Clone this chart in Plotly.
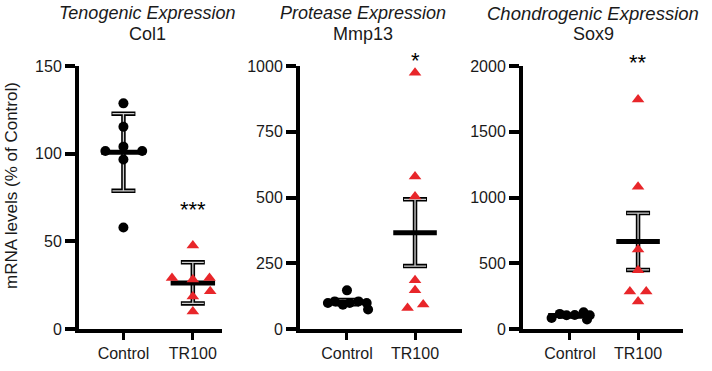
import numpy as np
import plotly.graph_objects as go

W, H = 712, 371

# ---------------- data ----------------
groups = ["Control", "TR100"]
panel_titles = ["Tenogenic Expression", "Protease Expression", "Chondrogenic Expression"]
genes = ["Col1", "Mmp13", "Sox9"]
significance = ["***", "*", "**"]
y_max = [150, 1000, 2000]
y_dtick = [50, 250, 500]

col1_control = [128.7, 115.4, 104.0, 101.5, 101.5, 96.7, 57.9]
col1_tr100 = [47.6, 29.1, 28.2, 29.1, 21.5, 18.6, 10.0]
mmp13_control = [99, 105, 92, 147, 99, 105, 99, 74]
mmp13_tr100 = [974, 580, 504, 185, 147, 80, 93]
sox9_control = [84, 115, 104, 106, 128, 72, 104]
sox9_tr100 = [1746, 1081, 604, 446, 286, 286, 210]

# error-bar half lengths (Col1: SD, Mmp13/Sox9: SEM)
col1_err = [22.0, 11.7]
mmp13_err = [8.0, 127.0]
sox9_err = [7.0, 216.0]

# horizontal jitter of the dots (category units)
col1_control_jit = [0, 0, 0, -0.26, 0.27, 0, 0]
col1_tr100_jit = [0, -0.30, 0, 0.24, 0.25, 0, 0]
mmp13_control_jit = [-0.28, -0.18, -0.06, 0.0, 0.04, 0.17, 0.29, 0.31]
mmp13_tr100_jit = [0, 0, 0, 0, 0, -0.11, 0.12]
sox9_control_jit = [-0.27, -0.15, -0.05, 0.07, 0.20, 0.25, 0.29]
sox9_tr100_jit = [0, 0, 0, 0, -0.12, 0.12, 0]

panels = [
    (col1_control, col1_tr100, col1_err, col1_control_jit, col1_tr100_jit),
    (mmp13_control, mmp13_tr100, mmp13_err, mmp13_control_jit, mmp13_tr100_jit),
    (sox9_control, sox9_tr100, sox9_err, sox9_control_jit, sox9_tr100_jit),
]

# ---------------- layout geometry (pixels) ----------------
x_dom_px = [(79, 222), (300, 462), (523, 683)]
x_ranges = [(-0.64, 1.42), (-0.69, 1.69), (-0.69, 1.66)]
y_dom_px = (329, 66)
title_cx = [147, 363, 593]
title_font = [18, 18, 18.5]

FONT = "Liberation Sans, Arial, sans-serif"
TXT = "#1a1a1a"
RED = "#E8262A"
MEAN_HW = 0.32


def px_x(p):
    return p / W


def px_y(p):
    return 1 - p / H


fig = go.Figure()
layout = dict(
    width=W, height=H, autosize=False,
    margin=dict(l=0, r=0, t=0, b=0, pad=0),
    paper_bgcolor="white", plot_bgcolor="white",
    showlegend=False,
    font=dict(family=FONT, color=TXT, size=16),
)
annotations = []

for i, (ctrl, trt, err, jc, jt) in enumerate(panels):
    sfx = "" if i == 0 else str(i + 1)
    xa, ya = "x" + sfx, "y" + sfx
    means = [float(np.mean(ctrl)), float(np.mean(trt))]

    # error bars (black, with a light core to mimic the printed double line)
    for col, th, wd in [("black", 4.5, 12), ("#cfcfcf", 1.3, 11)]:
        fig.add_trace(go.Scatter(
            x=[0, 1], y=means, mode="markers", xaxis=xa, yaxis=ya,
            marker=dict(size=1, color="rgba(0,0,0,0)"),
            error_y=dict(type="data", array=err, visible=True,
                         color=col, thickness=th, width=wd),
            hoverinfo="skip", cliponaxis=False,
        ))
    # mean lines
    for g in range(2):
        fig.add_trace(go.Scatter(
            x=[g - MEAN_HW, g + MEAN_HW], y=[means[g], means[g]],
            mode="lines", line=dict(color="black", width=5),
            xaxis=xa, yaxis=ya, hoverinfo="skip", cliponaxis=False,
        ))
    # points
    fig.add_trace(go.Scatter(
        x=[0 + j for j in jc], y=ctrl, mode="markers", xaxis=xa, yaxis=ya,
        marker=dict(symbol="circle", size=10, color="black"),
        cliponaxis=False,
    ))
    fig.add_trace(go.Scatter(
        x=[1 + j for j in jt], y=trt, mode="markers", xaxis=xa, yaxis=ya,
        marker=dict(symbol="triangle-up", size=11, color=RED),
        cliponaxis=False,
    ))

    x0, x1 = x_dom_px[i]
    layout["xaxis" + sfx] = dict(
        domain=[px_x(x0), px_x(x1)], range=list(x_ranges[i]), anchor=ya,
        tickvals=[0, 1], ticktext=groups, ticks="outside", ticklen=7,
        tickwidth=3, tickcolor="black", showline=True, linewidth=4,
        linecolor="black", showgrid=False, zeroline=False, automargin=False,
        tickfont=dict(size=16, color=TXT, family=FONT), fixedrange=True,
    )
    layout["yaxis" + sfx] = dict(
        domain=[px_y(y_dom_px[0]), px_y(y_dom_px[1])], range=[0, y_max[i]],
        anchor=xa, dtick=y_dtick[i], tick0=0, ticks="outside", ticklen=10,
        tickwidth=4, tickcolor="black", showline=True, linewidth=4,
        linecolor="black", showgrid=False, zeroline=False, automargin=False,
        tickfont=dict(size=16, color=TXT, family=FONT), fixedrange=True,
    )

    # titles
    annotations.append(dict(
        text="<i>" + panel_titles[i] + "</i>", xref="paper", yref="paper",
        x=px_x(title_cx[i]), y=px_y(1), xanchor="center", yanchor="top",
        showarrow=False, font=dict(size=title_font[i], family=FONT, color=TXT),
    ))
    annotations.append(dict(
        text=genes[i], xref="paper", yref="paper",
        x=px_x(title_cx[i]), y=px_y(34), xanchor="center", yanchor="middle",
        showarrow=False, font=dict(size=18, family=FONT, color=TXT),
    ))

# significance stars
star_y_px = [209, 61, 63]
for i in range(3):
    sfx = "" if i == 0 else str(i + 1)
    annotations.append(dict(
        text=significance[i], xref="x" + sfx, yref="paper", x=1,
        y=px_y(star_y_px[i]), xanchor="center", yanchor="middle",
        showarrow=False, font=dict(size=22, family=FONT, color="black"),
    ))

# shared y-axis title
annotations.append(dict(
    text="mRNA levels (% of Control)", xref="paper", yref="paper",
    x=px_x(11), y=px_y(186), xanchor="center", yanchor="middle",
    textangle=-90, showarrow=False, font=dict(size=17, family=FONT, color=TXT),
))

layout["annotations"] = annotations
fig.update_layout(**layout)
fig.write_html("out.html", config={"displayModeBar": False, "responsive": False})

# remove the browser's default page margin so the figure sits at (0, 0)
with open("out.html", "r", encoding="utf-8") as fh:
    html = fh.read()
html = html.replace("<head>", "<head><style>html,body{margin:0;padding:0;overflow:hidden;}</style>", 1)
with open("out.html", "w", encoding="utf-8") as fh:
    fh.write(html)
